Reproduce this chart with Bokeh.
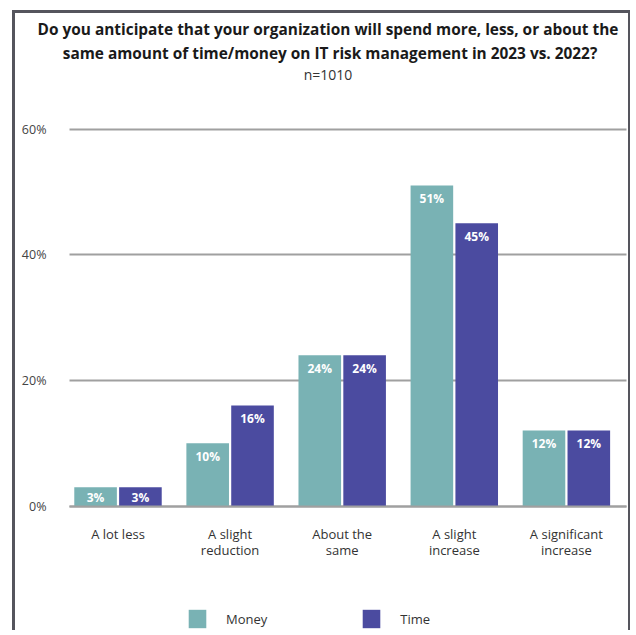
import numpy as np
from bokeh.plotting import figure
from bokeh.models import (ColumnDataSource, Range1d, FixedTicker, Label, Legend,
                          LegendItem, Grid)
from bokeh.embed import file_html
from bokeh.resources import INLINE

# ---------------- data ----------------
categories = ["A lot less", "A slight\nreduction", "About the\nsame",
              "A slight\nincrease", "A significant\nincrease"]
money = [3, 10, 24, 51, 12]
time_ = [3, 16, 24, 45, 12]
series_names = ["Money", "Time"]
y_ticks = [0, 20, 40, 60]
y_tick_labels = ["0%", "20%", "40%", "60%"]
title_lines = ["Do you anticipate that your organization will spend more, less, or about the",
               "same amount of time/money on IT risk management in 2023 vs. 2022?"]
subtitle = "n=1010"

# ---------------- style / geometry ----------------
FONT = "Open Sans"
TEAL = "#79b2b4"
PURPLE = "#4b4ba0"
GRID = "#a0a0a0"
BORDER = "#55555d"

W, H = 618, 620
OX, OY = 15, 13            # canvas origin on the page
PXX = 112.1                # px per category
PXY = 6.283                # px per percent
X0_PAGE = 117.5            # page x of first category
Y0_PAGE = 505.5            # page y of 0 %
PLOT_L, PLOT_R = 69, 626   # page x extent of axis / grid


def dx(px):  # page x -> data x
    return (px - X0_PAGE) / PXX


x_start = dx(OX)
x_end = dx(OX + W)
y_end = (Y0_PAGE - OY) / PXY
y_start = -(OY + H - Y0_PAGE) / PXY

p = figure(width=W, height=H, output_backend="svg", toolbar_location=None,
           x_range=Range1d(x_start, x_end), y_range=Range1d(y_start, y_end),
           min_border=0, min_border_left=0, min_border_right=0,
           min_border_top=0, min_border_bottom=0)
p.styles = {"border-left": f"3px solid {BORDER}", "border-top": f"3px solid {BORDER}",
            "border-right": f"2px solid {BORDER}", "margin-left": "12px",
            "margin-top": "10px"}
p.outline_line_color = None
p.background_fill_color = "white"
p.border_fill_color = "white"

xs = np.arange(len(categories))
off = 0.2
bw = 0.38

src_m = ColumnDataSource(dict(x=xs - off, top=money,
                              lab=[f"{v}%" for v in money],
                              yo=[min(13, 0.55 * v * PXY) for v in money]))
src_t = ColumnDataSource(dict(x=xs + off, top=time_,
                              lab=[f"{v}%" for v in time_],
                              yo=[min(13, 0.55 * v * PXY) for v in time_]))

r_m = p.vbar(x="x", top="top", width=bw, source=src_m, color=TEAL, line_color=None)
r_t = p.vbar(x="x", top="top", width=bw, source=src_t, color=PURPLE, line_color=None)

for src in (src_m, src_t):
    p.text(x="x", y="top", text="lab", source=src, y_offset="yo",
           text_align="center", text_baseline="middle", text_color="white",
           text_font_size="12px", text_font_style="bold", text_font={"value": FONT})

# axes (inside the frame)
xa = p.xaxis[0]
xa.fixed_location = 0
xa.bounds = (dx(PLOT_L), dx(PLOT_R))
xa.ticker = FixedTicker(ticks=list(xs))
xa.major_label_overrides = {int(i): c for i, c in zip(xs, categories)}
xa.axis_line_color = GRID
xa.axis_line_width = 2
xa.major_tick_line_color = None
xa.minor_tick_line_color = None
xa.major_label_standoff = 13
xa.major_label_text_font = FONT
xa.major_label_text_font_size = "13px"
xa.major_label_text_line_height = 0.9
xa.major_label_text_color = "#333333"

ya = p.yaxis[0]
ya.fixed_location = dx(PLOT_L)
ya.ticker = FixedTicker(ticks=y_ticks)
ya.major_label_overrides = {t: l for t, l in zip(y_ticks, y_tick_labels)}
ya.axis_line_color = None
ya.major_tick_line_color = None
ya.minor_tick_line_color = None
ya.major_label_standoff = 17
ya.major_label_text_font = FONT
ya.major_label_text_font_size = "12.5px"
ya.major_label_text_color = "#444444"

p.xgrid.grid_line_color = None
p.ygrid.grid_line_color = GRID
p.ygrid.grid_line_width = 2
if "cross_bounds" in Grid.properties():
    p.ygrid.cross_bounds = (dx(PLOT_L), dx(PLOT_R))


def lbl(text, cx_page, base_page, size, bold=False, color="#1a1a1a"):
    return Label(x=cx_page - OX, y=OY + H - base_page, x_units="screen", y_units="screen",
                 text=text, text_align="center", text_baseline="alphabetic",
                 text_font=FONT, text_font_size=size,
                 text_font_style="bold" if bold else "normal", text_color=color)


p.add_layout(lbl(title_lines[0], 327.5, 29, "15.4px", True))
p.add_layout(lbl(title_lines[1], 329.5, 52.5, "15.4px", True))
p.add_layout(lbl(subtitle, 327.5, 74, "14px", False, "#333333"))

legend = Legend(items=[LegendItem(label=series_names[0], renderers=[r_m]),
                       LegendItem(label=series_names[1], renderers=[r_t])],
                location=(186 - OX, OY + H - 607 - 23), orientation="horizontal",
                glyph_width=22, glyph_height=23, label_standoff=18, spacing=93,
                padding=0, margin=0, border_line_color=None,
                background_fill_alpha=0, label_text_font=FONT,
                label_text_font_size="13px", label_text_color="#333333")
p.add_layout(legend, "center")

open("out.html", "w").write(file_html(p, INLINE))
